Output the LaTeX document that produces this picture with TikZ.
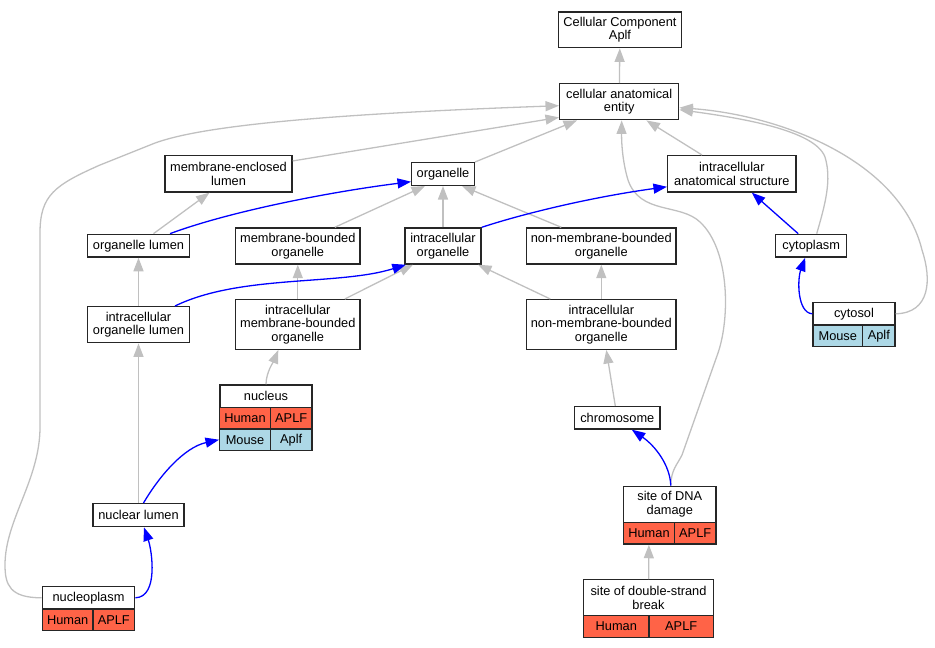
\documentclass[tikz,border=0pt]{standalone}
\usepackage{fontspec}
\setmainfont{Liberation Sans}
\usetikzlibrary{arrows.meta}
\definecolor{tomato}{HTML}{FF6347}
\definecolor{lblue}{HTML}{ADD8E6}
\definecolor{edgegray}{HTML}{C0C0C0}
\begin{document}
\begin{tikzpicture}[x=1pt, y=-1pt,
	term/.style={draw=black!85, line width=1.4pt, fill=white, inner sep=0pt, align=center, font=\fontsize{12.8}{13.6}\selectfont},
	sz/.style 2 args={minimum width=#1pt, minimum height=#2pt},
	human/.style={term, fill=tomato},
	mouse/.style={term, fill=lblue},
	isa/.style={draw=edgegray, line width=1.3pt, -{Triangle[length=13.5pt, width=10pt]}},
	link/.style={draw=blue, line width=1.3pt, -{Triangle[length=13.5pt, width=10pt]}}]
	\useasboundingbox (0,0) rectangle (935,648);

	% Top terms
	\node[term, sz={122.6}{35.7}] (cellcomp) at (620,29.8) {Cellular Component\\Aplf};
	\node[term, sz={119}{36}] (anatent) at (619.2,101.7) {cellular anatomical\\entity};

	% Second row
	\node[term, sz={127}{36.3}] (memlumen) at (228.5,173.8) {membrane-enclosed\\lumen};
	\node[term, sz={62.6}{22.6}] (organelle) at (443,174) {organelle};
	\node[term, sz={128.3}{36.3}] (anatstruct) at (731.8,173.8) {intracellular\\anatomical structure};

	% Third row
	\node[term, sz={101.6}{22.7}] (orglumen) at (138.5,245.7) {organelle lumen};
	\node[term, sz={124.3}{36}] (membound) at (297.8,246) {membrane-bounded\\organelle};
	\node[term, sz={76}{36}] (intraorg) at (443,246) {intracellular\\organelle};
	\node[term, sz={149.3}{36}] (nonmemb) at (601.3,246) {non-membrane-bounded\\organelle};
	\node[term, sz={71}{22.7}] (cytoplasm) at (811.2,245.7) {cytoplasm};

	% Fourth row
	\node[term, sz={101.6}{36}] (intraorglumen) at (138.5,324.7) {intracellular\\organelle lumen};
	\node[term, sz={124.3}{49.6}] (intramemb) at (297.8,324.5) {intracellular\\membrane-bounded\\organelle};
	\node[term, sz={149.3}{49.6}] (intranonmemb) at (601.3,324.5) {intracellular\\non-membrane-bounded\\organelle};

	% cytosol with its table
	\node[term, sz={82}{22.3}] (cytosol) at (854,313.8) {cytosol};
	\node[mouse, sz={49.7}{21.7}] (cytMs) at (837.8,335.8) {Mouse};
	\node[mouse, sz={32.3}{21.7}] (cytMg) at (878.8,335.8) {Aplf};

	% nucleus with its table
	\node[term, sz={92.3}{22.5}] (nucleus) at (266,396.2) {nucleus};
	\node[human, sz={50.6}{21.5}] (nucHs) at (245,418.2) {Human};
	\node[human, sz={41.7}{21.5}] (nucHg) at (291.2,418.2) {APLF};
	\node[mouse, sz={50.6}{21.5}] (nucMs) at (245,439.7) {Mouse};
	\node[mouse, sz={41.7}{21.5}] (nucMg) at (291.2,439.7) {Aplf};

	% Lower terms
	\node[term, sz={85.3}{22.3}] (chromosome) at (617.3,417.8) {chromosome};
	\node[term, sz={91}{23}] (nuclumen) at (138.5,515.2) {nuclear lumen};

	\node[term, sz={92.3}{36}] (dnadamage) at (669.8,504.3) {site of DNA\\damage};
	\node[human, sz={50.6}{21.7}] (dnaHs) at (649,533.2) {Human};
	\node[human, sz={41.7}{21.7}] (dnaHg) at (695.2,533.2) {APLF};

	\node[term, sz={129.6}{36}] (dsbreak) at (648.5,597.7) {site of double-strand\\break};
	\node[human, sz={65.3}{21.7}] (dsbHs) at (616.3,626.5) {Human};
	\node[human, sz={64.3}{21.7}] (dsbHg) at (681.2,626.5) {APLF};

	\node[term, sz={92.4}{22.3}] (nucleoplasm) at (88.5,597.8) {nucleoplasm};
	\node[human, sz={50.7}{21.7}] (nplHs) at (67.7,619.8) {Human};
	\node[human, sz={41.7}{21.7}] (nplHg) at (113.8,619.8) {APLF};

	% is_a edges
	\draw[isa] (anatent) -- (cellcomp);
	\draw[isa] ([yshift=-6pt]memlumen.north east) -- ([yshift=3pt]anatent.south west);
	\draw[isa] (organelle.north east) -- ([xshift=18pt]anatent.south west);
	\draw[isa] ([xshift=35pt]anatstruct.north west) -- ([xshift=-33pt]anatent.south east);
	\draw[isa] ([xshift=15pt]orglumen.north) -- ([xshift=-19pt]memlumen.south);
	\draw[isa] ([xshift=37pt]membound.north) -- ([xshift=-18pt]organelle.south);
	\draw[isa] (intraorg) -- (organelle);
	\draw[isa] ([xshift=-40pt]nonmemb.north) -- ([xshift=19pt]organelle.south);
	\draw[isa] (intraorglumen) -- (orglumen);
	\draw[isa] (intramemb) -- (membound);
	\draw[isa] ([xshift=47pt]intramemb.north) -- ([xshift=-30pt]intraorg.south);
	\draw[isa] ([xshift=-51pt]intranonmemb.north) -- ([xshift=35pt]intraorg.south);
	\draw[isa] (intranonmemb) -- (nonmemb);
	\draw[isa] (nuclumen) -- (intraorglumen);
	\draw[isa] ([xshift=-2pt]chromosome.north) -- ([xshift=5pt]intranonmemb.south);
	\draw[isa] (dsbreak) -- (dnaHs);
	\draw[isa] (nucleus.north) .. controls +(0,-12) and +(-4,10) .. ([xshift=-19.5pt]intramemb.south);

	% long is_a edges
	\draw[isa] (nucleoplasm.west) .. controls (10,597.8) and (5,585) .. (5,565)
		.. controls (5,520) and (40,480) .. (40,427) -- (40,233)
		.. controls (40,195) and (55,185) .. (100,165) -- (150,145)
		.. controls (190,128) and (300,115) .. ([yshift=-4pt]anatent.west);
	\draw[isa] ([xshift=5.5pt]cytoplasm.north) .. controls (825,205) and (832,180) .. (825,157)
		.. controls (815,130) and (740,118) .. ([yshift=-8pt]anatent.east);
	\draw[isa] (cytosol.east) .. controls (930,313) and (932,280) .. (922,250)
		.. controls (900,160) and (780,115) .. ([yshift=-6pt]anatent.east);
	\draw[isa] ([xshift=1pt]dnadamage.north) .. controls (671,470) and (677,465) .. (682,455) -- (718,353)
		.. controls (730,318) and (730,250) .. (700,222)
		.. controls (680,203) and (640,215) .. (628,180)
		.. controls (622,160) and (621.5,140) .. ([xshift=2.5pt]anatent.south);

	% part_of edges
	\draw[link] ([xshift=31.5pt]orglumen.north) .. controls +(60,-22.3) and +(-81.7,10.3) .. ([yshift=-7.7pt]organelle.west);
	\draw[link] (intraorg.north east) .. controls +(49,-16) and +(-67.7,9.2) .. ([yshift=-13pt]anatstruct.west);
	\draw[link] ([xshift=36.5pt]intraorglumen.north) .. controls +(65,-31.7) and +(-66.5,21) .. ([xshift=1.5pt]intraorg.south west);
	\draw[link] ([xshift=-13pt]cytoplasm.north) -- ([xshift=20pt]anatstruct.south);
	\draw[link] (cytosol.west) .. controls +(-15,-1) and +(-8,22) .. ([xshift=-6pt]cytoplasm.south);
	\draw[link] ([xshift=5pt]nuclumen.north) .. controls +(16.5,-28) and +(-34.7,7.7) .. (nucMs.west);
	\draw[link] (nucleoplasm.east) .. controls +(23.3,-0.8) and +(8,23.3) .. ([xshift=5.5pt]nuclumen.south);
	\draw[link] ([xshift=1pt]dnadamage.north) .. controls +(-0.8,-21) and +(23,16) .. ([xshift=14.5pt]chromosome.south);
\end{tikzpicture}
\end{document}
